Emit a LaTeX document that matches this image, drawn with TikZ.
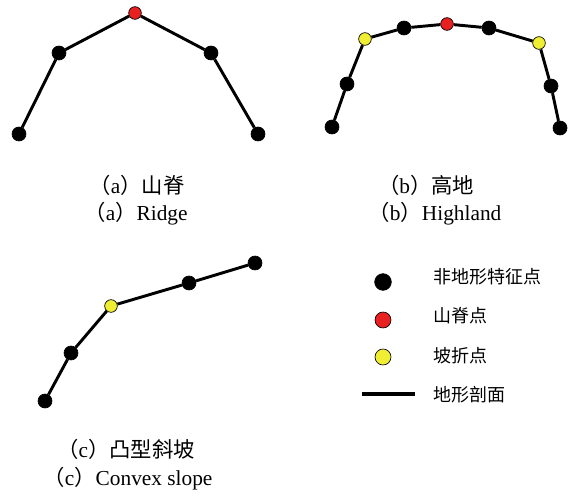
\documentclass[tikz,border=0pt]{standalone}
\usepackage{fontspec}
\setmainfont{Liberation Serif}
\newfontfamily\cjk{Noto Sans CJK SC}
\definecolor{ridgered}{RGB}{232,32,32}
\definecolor{breakyellow}{RGB}{240,238,50}
\tikzset{
  ptdot/.style={circle,draw=black,line width=0.5pt,inner sep=0pt,minimum size=10.5pt},
  bdot/.style={ptdot,fill=black},
  rdot/.style={ptdot,fill=ridgered,minimum size=9.5pt},
  ydot/.style={ptdot,fill=breakyellow,minimum size=9.5pt},
  prof/.style={line width=2.2pt,black},
  captext/.style={font=\fontsize{16}{18}\selectfont},
  legtext/.style={font=\cjk\fontsize{13.5}{15}\selectfont,anchor=west}
}
\begin{document}
\begin{tikzpicture}[x=0.75pt,y=-0.75pt]
\useasboundingbox (0,0) rectangle (573,498);
% (a) ridge
\node[bdot] (a1) at (19,134) {};
\node[bdot] (a2) at (59,53) {};
\node[rdot] (a3) at (135,13) {};
\node[bdot] (a4) at (211,53) {};
\node[bdot] (a5) at (258,134) {};
\draw[prof] (a1)--(a2)--(a3)--(a4)--(a5);
% (b) highland
\node[bdot] (b1) at (332,127) {};
\node[bdot] (b2) at (347,84) {};
\node[ydot] (b3) at (365,39) {};
\node[bdot] (b4) at (404,28) {};
\node[rdot] (b5) at (447,24) {};
\node[bdot] (b6) at (489,28) {};
\node[ydot] (b7) at (539,43) {};
\node[bdot] (b8) at (551,86) {};
\node[bdot] (b9) at (560,128) {};
\draw[prof] (b1)--(b2)--(b3)--(b4)--(b5)--(b6)--(b7)--(b8)--(b9);
% (c) convex slope
\node[bdot] (c1) at (45,401) {};
\node[bdot] (c2) at (71,353) {};
\node[ydot] (c3) at (111,306) {};
\node[bdot] (c4) at (189,283) {};
\node[bdot] (c5) at (255,263) {};
\draw[prof] (c1)--(c2)--(c3)--(c4)--(c5);
% captions
\node[captext] (ta) at (137,185) {{\cjk （}a{\cjk ）山脊}};
\node[captext] (tae) at (136,214) {{\cjk （}a{\cjk ）}Ridge};
\node[captext] (tb) at (426,185) {{\cjk （}b{\cjk ）高地}};
\node[captext] (tbe) at (435,214) {{\cjk （}b{\cjk ）}Highland};
\node[captext] (tc) at (126,449) {{\cjk （}c{\cjk ）凸型斜坡}};
\node[captext] (tce) at (128,479) {{\cjk （}c{\cjk ）}Convex slope};
% legend
\node[bdot,minimum size=12.5pt] (l1) at (383,282) {};
\node[rdot,minimum size=12pt] (l2) at (383,320) {};
\node[ydot,minimum size=12pt] (l3) at (383,357) {};
\coordinate (l4a) at (362,394);
\coordinate (l4b) at (415,394);
\draw[line width=3pt] (l4a)--(l4b);
\node[legtext] (t1) at (429,277) {非地形特征点};
\node[legtext] (t2) at (429,316) {山脊点};
\node[legtext] (t3) at (429,356) {坡折点};
\node[legtext] (t4) at (429,395) {地形剖面};
\end{tikzpicture}
\end{document}
